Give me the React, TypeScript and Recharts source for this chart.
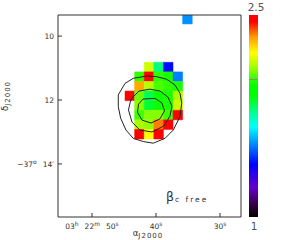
import React from 'react';
import {
  ScatterChart,
  Scatter,
  XAxis,
  YAxis,
  ReferenceArea,
  BarChart,
  Bar,
  ReferenceLine,
} from 'recharts';

// map cells: centre RA (seconds after 03h22m), centre Dec (arcmin south of -37d), beta_c
const CELL_RA = [
  35.09,
  41.09, 39.59, 38.09,
  42.59, 41.09, 39.59, 38.09, 36.59,
  42.59, 41.09, 39.59, 38.09, 36.59,
  44.09, 42.59, 41.09, 39.59, 38.09, 36.59,
  42.59, 41.09, 39.59, 38.09, 36.59,
  42.59, 41.09, 39.59, 38.09, 36.59,
  42.59, 41.09, 39.59, 38.09,
  42.59, 41.09, 39.59,
];
const CELL_DEC = [
  9.47,
  10.97, 10.97, 10.97,
  11.27, 11.27, 11.27, 11.27, 11.27,
  11.57, 11.57, 11.57, 11.57, 11.57,
  11.87, 11.87, 11.87, 11.87, 11.87, 11.87,
  12.17, 12.17, 12.17, 12.17, 12.17,
  12.47, 12.47, 12.47, 12.47, 12.47,
  12.77, 12.77, 12.77, 12.77,
  13.07, 13.07, 13.07,
];
const CELL_BETA = [
  1.55,
  2.16, 1.79, 1.4,
  2.02, 2.5, 2.02, 2.0, 1.53,
  2.32, 2.13, 2.04, 2.02, 2.0,
  2.5, 2.07, 1.83, 1.99, 2.0, 2.12,
  2.09, 1.86, 1.99, 2.0, 2.16,
  2.03, 2.09, 2.09, 2.03, 2.5,
  2.12, 2.1, 2.36, 2.48,
  2.49, 2.22, 2.48,
];
const CELL_W = 1.5; // seconds of RA
const CELL_H = 0.3; // arcmin

// flux contours
const OUTER_RA = [45.89, 44.84, 43.55, 41.45, 39.89, 38.33, 37.03, 36.25, 35.98, 36.25, 37.3, 38.59, 40.42, 41.98, 43.55, 44.69, 45.52, 45.89];
const OUTER_DEC = [11.84, 11.48, 11.32, 11.25, 11.27, 11.35, 11.53, 11.79, 12.1, 12.52, 12.94, 13.2, 13.35, 13.3, 13.2, 12.94, 12.57, 12.21];
const MID_RA = [40.94, 39.38, 38.13, 37.5, 37.81, 38.75, 40.63, 42.5, 43.75, 44.3, 43.91, 42.66];
const MID_DEC = [11.66, 11.72, 11.91, 12.19, 12.5, 12.81, 13.0, 12.94, 12.69, 12.31, 11.97, 11.72];
const INNER_RA = [42.03, 40.16, 39.06, 38.67, 39.38, 40.78, 42.19, 42.89, 42.73];
const INNER_DEC = [11.97, 11.95, 12.09, 12.34, 12.59, 12.72, 12.63, 12.38, 12.13];

const RA_DOMAIN = [26.72, 55.31];
const DEC_DOMAIN = [9.34, 15.66];
const RA_TICKS = [50, 40, 30];
const RA_TICK_PARTS = [['03', 'h', '22', 'm', '50', 's'], ['40', 's'], ['30', 's']];
const DEC_TICKS = [10, 12, 14];
const DEC_TICK_PARTS = [['10'], ['12'], ['\u221237', 'o', '14\u2032']];

// colour bar
const CBAR_RANGE = [1, 2.5];
const CBAR_MARK = 2.02;
const CMAP_VALUES = [2.5, 2.45, 2.34, 2.22, 2.12, 1.98, 1.9, 1.77, 1.67, 1.54, 1.39, 1.22, 1.09, 1.0];
const CMAP_COLORS = ['#ff0000', '#ff0000', '#ff9900', '#ffff00', '#aaff00', '#00ff00', '#00ff00', '#00ff99', '#00ffff', '#0088ff', '#0000ff', '#6600cc', '#330044', '#000000'];

const FONT = '"DejaVu Sans", sans-serif';
const INK = '#333';

function hexRgb(h: string) {
  return [1, 3, 5].map((i) => parseInt(h.slice(i, i + 2), 16));
}

function betaColor(v: number): string {
  const t = Math.min(CMAP_VALUES[0], Math.max(CMAP_VALUES[CMAP_VALUES.length - 1], v));
  for (let i = 0; i < CMAP_VALUES.length - 1; i++) {
    const hi = CMAP_VALUES[i];
    const lo = CMAP_VALUES[i + 1];
    if (t <= hi && t >= lo) {
      const f = hi === lo ? 0 : (hi - t) / (hi - lo);
      const a = hexRgb(CMAP_COLORS[i]);
      const b = hexRgb(CMAP_COLORS[i + 1]);
      const c = a.map((x, k) => Math.round(x + (b[k] - x) * f));
      return `rgb(${c[0]},${c[1]},${c[2]})`;
    }
  }
  return '#000';
}

const loop = (ra: number[], dec: number[]) =>
  [...ra, ra[0]].map((x, i) => ({ x, y: i < ra.length ? dec[i] : dec[0] }));

function Parts({ parts, size }: { parts: string[]; size: number }) {
  return (
    <>
      {parts.map((p, i) =>
        i % 2 === 0 ? (
          <tspan key={i} dx={i === 0 ? 0 : 6} dy={i === 0 ? 0 : 3} fontSize={size}>
            {p}
          </tspan>
        ) : (
          <tspan key={i} dy={-3} fontSize={size - 1.5}>
            {p}
          </tspan>
        ),
      )}
    </>
  );
}

function RaTick(props: any) {
  const { x, y, payload } = props;
  const idx = RA_TICKS.indexOf(payload.value);
  return (
    <g>
      <line x1={x} y1={y} x2={x} y2={y - 4} stroke={INK} />
      <text x={x} y={y + 12} textAnchor="middle" fill={INK} fontFamily={FONT}>
        <Parts parts={RA_TICK_PARTS[idx] || []} size={7.5} />
      </text>
    </g>
  );
}

function DecTick(props: any) {
  const { x, y, payload } = props;
  const idx = DEC_TICKS.indexOf(payload.value);
  return (
    <g>
      <line x1={x} y1={y} x2={x + 4} y2={y} stroke={INK} />
      <text x={x - 4} y={y + 3} textAnchor="end" fill={INK} fontFamily={FONT}>
        <Parts parts={DEC_TICK_PARTS[idx] || []} size={7.5} />
      </text>
    </g>
  );
}

function RightTick(props: any) {
  const { x, y } = props;
  return <line x1={x} y1={y} x2={x - 4} y2={y} stroke={INK} />;
}

export default function App() {
  const contours = [loop(OUTER_RA, OUTER_DEC), loop(MID_RA, MID_DEC), loop(INNER_RA, INNER_DEC)];
  const cbarData = [{ name: 'beta', range: CBAR_RANGE }];
  return (
    <div style={{ position: 'absolute', left: 0, top: 0, width: 288, height: 240, background: '#fff' }}>
      <ScatterChart width={288} height={240} margin={{ top: 14, right: 46, bottom: 0, left: 0 }}>
        <XAxis
          xAxisId="ra"
          dataKey="x"
          type="number"
          domain={RA_DOMAIN}
          reversed
          ticks={RA_TICKS}
          tick={RaTick}
          tickLine={false}
          tickSize={0}
          tickMargin={0}
          height={23}
          axisLine={{ stroke: INK }}
          allowDataOverflow
        />
        <XAxis
          xAxisId="top"
          orientation="top"
          type="number"
          domain={RA_DOMAIN}
          reversed
          tick={false}
          tickLine={false}
          height={1}
          axisLine={{ stroke: INK }}
        />
        <YAxis
          yAxisId="dec"
          dataKey="y"
          type="number"
          domain={DEC_DOMAIN}
          reversed
          ticks={DEC_TICKS}
          tick={DecTick}
          tickLine={false}
          tickSize={0}
          tickMargin={0}
          width={58}
          axisLine={{ stroke: INK }}
          allowDataOverflow
        />
        <YAxis
          yAxisId="right"
          orientation="right"
          type="number"
          domain={DEC_DOMAIN}
          reversed
          ticks={DEC_TICKS}
          tick={RightTick}
          tickLine={false}
          tickSize={0}
          tickMargin={0}
          width={1}
          axisLine={{ stroke: INK }}
        />
        {CELL_RA.map((ra, i) => {
          const c = betaColor(CELL_BETA[i]);
          return (
            <ReferenceArea
              key={i}
              xAxisId="ra"
              yAxisId="dec"
              x1={ra + CELL_W / 2}
              x2={ra - CELL_W / 2}
              y1={CELL_DEC[i] - CELL_H / 2}
              y2={CELL_DEC[i] + CELL_H / 2}
              fill={c}
              fillOpacity={1}
              stroke={c}
              strokeWidth={0.5}
              ifOverflow="hidden"
            />
          );
        })}
        {contours.map((d, i) => (
          <Scatter
            key={i}
            xAxisId="ra"
            yAxisId="dec"
            data={d}
            line={{ stroke: '#222', strokeWidth: 1 }}
            lineType="joint"
            shape={() => <g />}
            isAnimationActive={false}
          />
        ))}
      </ScatterChart>

      <div style={{ position: 'absolute', left: 249, top: 15 }}>
        <BarChart width={9} height={202} data={cbarData} margin={{ top: 0, right: 0, bottom: 0, left: 0 }} barCategoryGap={0}>
          <defs>
            <linearGradient id="cbar" x1="0" y1="0" x2="0" y2="1">
              {CMAP_VALUES.map((v, i) => (
                <stop key={i} offset={(CBAR_RANGE[1] - v) / (CBAR_RANGE[1] - CBAR_RANGE[0])} stopColor={CMAP_COLORS[i]} />
              ))}
            </linearGradient>
          </defs>
          <XAxis dataKey="name" hide />
          <YAxis type="number" domain={CBAR_RANGE} hide />
          <Bar dataKey="range" fill="url(#cbar)" isAnimationActive={false} />
          <ReferenceLine y={CBAR_MARK} stroke="#888" strokeWidth={1} />
        </BarChart>
      </div>

      <svg width={288} height={240} style={{ position: 'absolute', left: 0, top: 0, pointerEvents: 'none' }} fontFamily={FONT} fill={INK}>
        <text x={256} y={11} fontSize={10.5} textAnchor="middle" fill="#555">2.5</text>
        <text x={254} y={230} fontSize={10.5} textAnchor="middle" fill="#555">1</text>
        <text x={148} y={236} textAnchor="middle">
          <tspan fontSize={8.5}>α</tspan>
          <tspan fontSize={7} dy={1.5} letterSpacing={1}>J2000</tspan>
        </text>
        <text transform="translate(8 96) rotate(-90)" textAnchor="middle">
          <tspan fontSize={8.5}>δ</tspan>
          <tspan fontSize={7} dy={1.5} letterSpacing={1}>J2000</tspan>
        </text>
        <text x={166} y={201}>
          <tspan fontSize={12.5}>β</tspan>
          <tspan fontSize={7.5} dx={1} dy={1} letterSpacing={2}>c free</tspan>
        </text>
      </svg>
    </div>
  );
}
